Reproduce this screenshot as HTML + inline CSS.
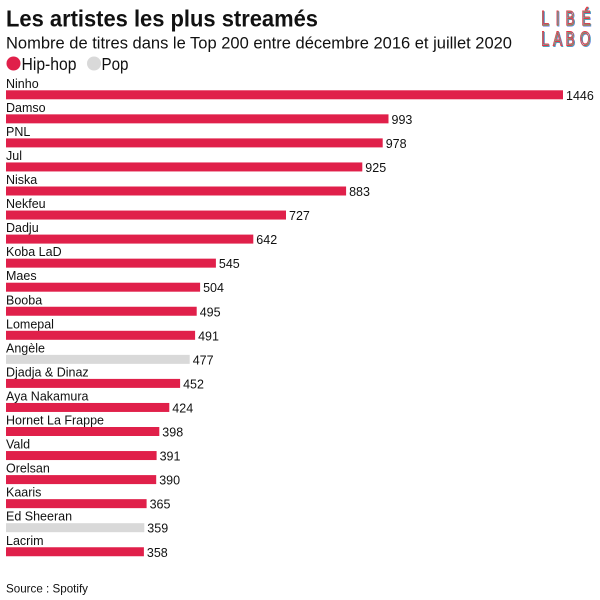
<!DOCTYPE html>
<html>
<head>
<meta charset="utf-8">
<style>
html,body{margin:0;padding:0;background:#fff;}
svg{display:block;}
text{font-family:"Liberation Sans",Arial,sans-serif;fill:#111;}
.lg text{fill:none;stroke-width:0.95;font-size:20px;}
</style>
</head>
<body>
<svg width="600" height="600" viewBox="0 0 600 600" xmlns="http://www.w3.org/2000/svg">
<rect width="600" height="600" fill="#fff"/>
<!-- Title -->
<text x="6" y="26.7" font-size="23" font-weight="bold" textLength="312" lengthAdjust="spacingAndGlyphs">Les artistes les plus streamés</text>
<text x="6" y="48.3" font-size="17" textLength="506" lengthAdjust="spacingAndGlyphs">Nombre de titres dans le Top 200 entre décembre 2016 et juillet 2020</text>
<!-- Legend -->
<circle cx="13.5" cy="63.5" r="7" fill="#e0204a"/>
<text x="21.5" y="70" font-size="17.5" textLength="55" lengthAdjust="spacingAndGlyphs">Hip-hop</text>
<circle cx="94" cy="63.5" r="7" fill="#d9d9d9"/>
<text x="101.5" y="70" font-size="17.5" textLength="27" lengthAdjust="spacingAndGlyphs">Pop</text>
<!-- Logo -->
<g class="lg" text-anchor="middle">
  <g transform="translate(0.9,0.9)">
    <text transform="translate(545,25) scale(0.68,1)" style="stroke:#5a6ee8">L</text>
    <text transform="translate(557.5,25) scale(0.68,1)" style="stroke:#5a6ee8">I</text>
    <text transform="translate(570,25) scale(0.68,1)" style="stroke:#5a6ee8">B</text>
    <text transform="translate(586,25) scale(0.68,1)" style="stroke:#5a6ee8">É</text>
    <text transform="translate(545,45.5) scale(0.68,1)" style="stroke:#5a6ee8">L</text>
    <text transform="translate(557.5,45.5) scale(0.68,1)" style="stroke:#5a6ee8">A</text>
    <text transform="translate(570,45.5) scale(0.68,1)" style="stroke:#5a6ee8">B</text>
    <text transform="translate(585,45.5) scale(0.68,1)" style="stroke:#5a6ee8">O</text>
  </g>
  <g transform="translate(0.45,0.3)">
    <text transform="translate(545,25) scale(0.68,1)" style="stroke:#3fd98a">L</text>
    <text transform="translate(557.5,25) scale(0.68,1)" style="stroke:#3fd98a">I</text>
    <text transform="translate(570,25) scale(0.68,1)" style="stroke:#3fd98a">B</text>
    <text transform="translate(586,25) scale(0.68,1)" style="stroke:#3fd98a">É</text>
    <text transform="translate(545,45.5) scale(0.68,1)" style="stroke:#3fd98a">L</text>
    <text transform="translate(557.5,45.5) scale(0.68,1)" style="stroke:#3fd98a">A</text>
    <text transform="translate(570,45.5) scale(0.68,1)" style="stroke:#3fd98a">B</text>
    <text transform="translate(585,45.5) scale(0.68,1)" style="stroke:#3fd98a">O</text>
  </g>
  <g>
    <text transform="translate(545,25) scale(0.68,1)" style="stroke:#e8334a">L</text>
    <text transform="translate(557.5,25) scale(0.68,1)" style="stroke:#e8334a">I</text>
    <text transform="translate(570,25) scale(0.68,1)" style="stroke:#e8334a">B</text>
    <text transform="translate(586,25) scale(0.68,1)" style="stroke:#e8334a">É</text>
    <text transform="translate(545,45.5) scale(0.68,1)" style="stroke:#e8334a">L</text>
    <text transform="translate(557.5,45.5) scale(0.68,1)" style="stroke:#e8334a">A</text>
    <text transform="translate(570,45.5) scale(0.68,1)" style="stroke:#e8334a">B</text>
    <text transform="translate(585,45.5) scale(0.68,1)" style="stroke:#e8334a">O</text>
  </g>
</g>
<!-- Bars -->
<g font-size="12.5">
<text x="6" y="87.8">Ninho</text>
<rect x="6" y="90.3" width="557" height="9" fill="#e0204a"/>
<text x="566" y="99.8">1446</text>
<text x="6" y="111.85">Damso</text>
<rect x="6" y="114.35" width="382.5" height="9" fill="#e0204a"/>
<text x="391.5" y="123.85">993</text>
<text x="6" y="135.9">PNL</text>
<rect x="6" y="138.4" width="376.7" height="9" fill="#e0204a"/>
<text x="385.7" y="147.9">978</text>
<text x="6" y="159.95">Jul</text>
<rect x="6" y="162.45" width="356.3" height="9" fill="#e0204a"/>
<text x="365.3" y="171.95">925</text>
<text x="6" y="184">Niska</text>
<rect x="6" y="186.5" width="340.1" height="9" fill="#e0204a"/>
<text x="349.1" y="196">883</text>
<text x="6" y="208.05">Nekfeu</text>
<rect x="6" y="210.55" width="280" height="9" fill="#e0204a"/>
<text x="289" y="220.05">727</text>
<text x="6" y="232.1">Dadju</text>
<rect x="6" y="234.6" width="247.3" height="9" fill="#e0204a"/>
<text x="256.3" y="244.1">642</text>
<text x="6" y="256.15">Koba LaD</text>
<rect x="6" y="258.65" width="209.9" height="9" fill="#e0204a"/>
<text x="218.9" y="268.15">545</text>
<text x="6" y="280.2">Maes</text>
<rect x="6" y="282.7" width="194.1" height="9" fill="#e0204a"/>
<text x="203.1" y="292.2">504</text>
<text x="6" y="304.25">Booba</text>
<rect x="6" y="306.75" width="190.7" height="9" fill="#e0204a"/>
<text x="199.7" y="316.25">495</text>
<text x="6" y="328.3">Lomepal</text>
<rect x="6" y="330.8" width="189.1" height="9" fill="#e0204a"/>
<text x="198.1" y="340.3">491</text>
<text x="6" y="352.35">Angèle</text>
<rect x="6" y="354.85" width="183.7" height="9" fill="#d9d9d9"/>
<text x="192.7" y="364.35">477</text>
<text x="6" y="376.4">Djadja &amp; Dinaz</text>
<rect x="6" y="378.9" width="174.1" height="9" fill="#e0204a"/>
<text x="183.1" y="388.4">452</text>
<text x="6" y="400.45">Aya Nakamura</text>
<rect x="6" y="402.95" width="163.3" height="9" fill="#e0204a"/>
<text x="172.3" y="412.45">424</text>
<text x="6" y="424.5">Hornet La Frappe</text>
<rect x="6" y="427" width="153.3" height="9" fill="#e0204a"/>
<text x="162.3" y="436.5">398</text>
<text x="6" y="448.55">Vald</text>
<rect x="6" y="451.05" width="150.6" height="9" fill="#e0204a"/>
<text x="159.6" y="460.55">391</text>
<text x="6" y="472.6">Orelsan</text>
<rect x="6" y="475.1" width="150.2" height="9" fill="#e0204a"/>
<text x="159.2" y="484.6">390</text>
<text x="6" y="496.65">Kaaris</text>
<rect x="6" y="499.15" width="140.6" height="9" fill="#e0204a"/>
<text x="149.6" y="508.65">365</text>
<text x="6" y="520.7">Ed Sheeran</text>
<rect x="6" y="523.2" width="138.3" height="9" fill="#d9d9d9"/>
<text x="147.3" y="532.7">359</text>
<text x="6" y="544.75">Lacrim</text>
<rect x="6" y="547.25" width="137.9" height="9" fill="#e0204a"/>
<text x="146.9" y="556.75">358</text>
</g>
<!-- Source -->
<text x="6" y="592.5" font-size="12" textLength="82" lengthAdjust="spacingAndGlyphs">Source : Spotify</text>
</svg>
</body>
</html>
